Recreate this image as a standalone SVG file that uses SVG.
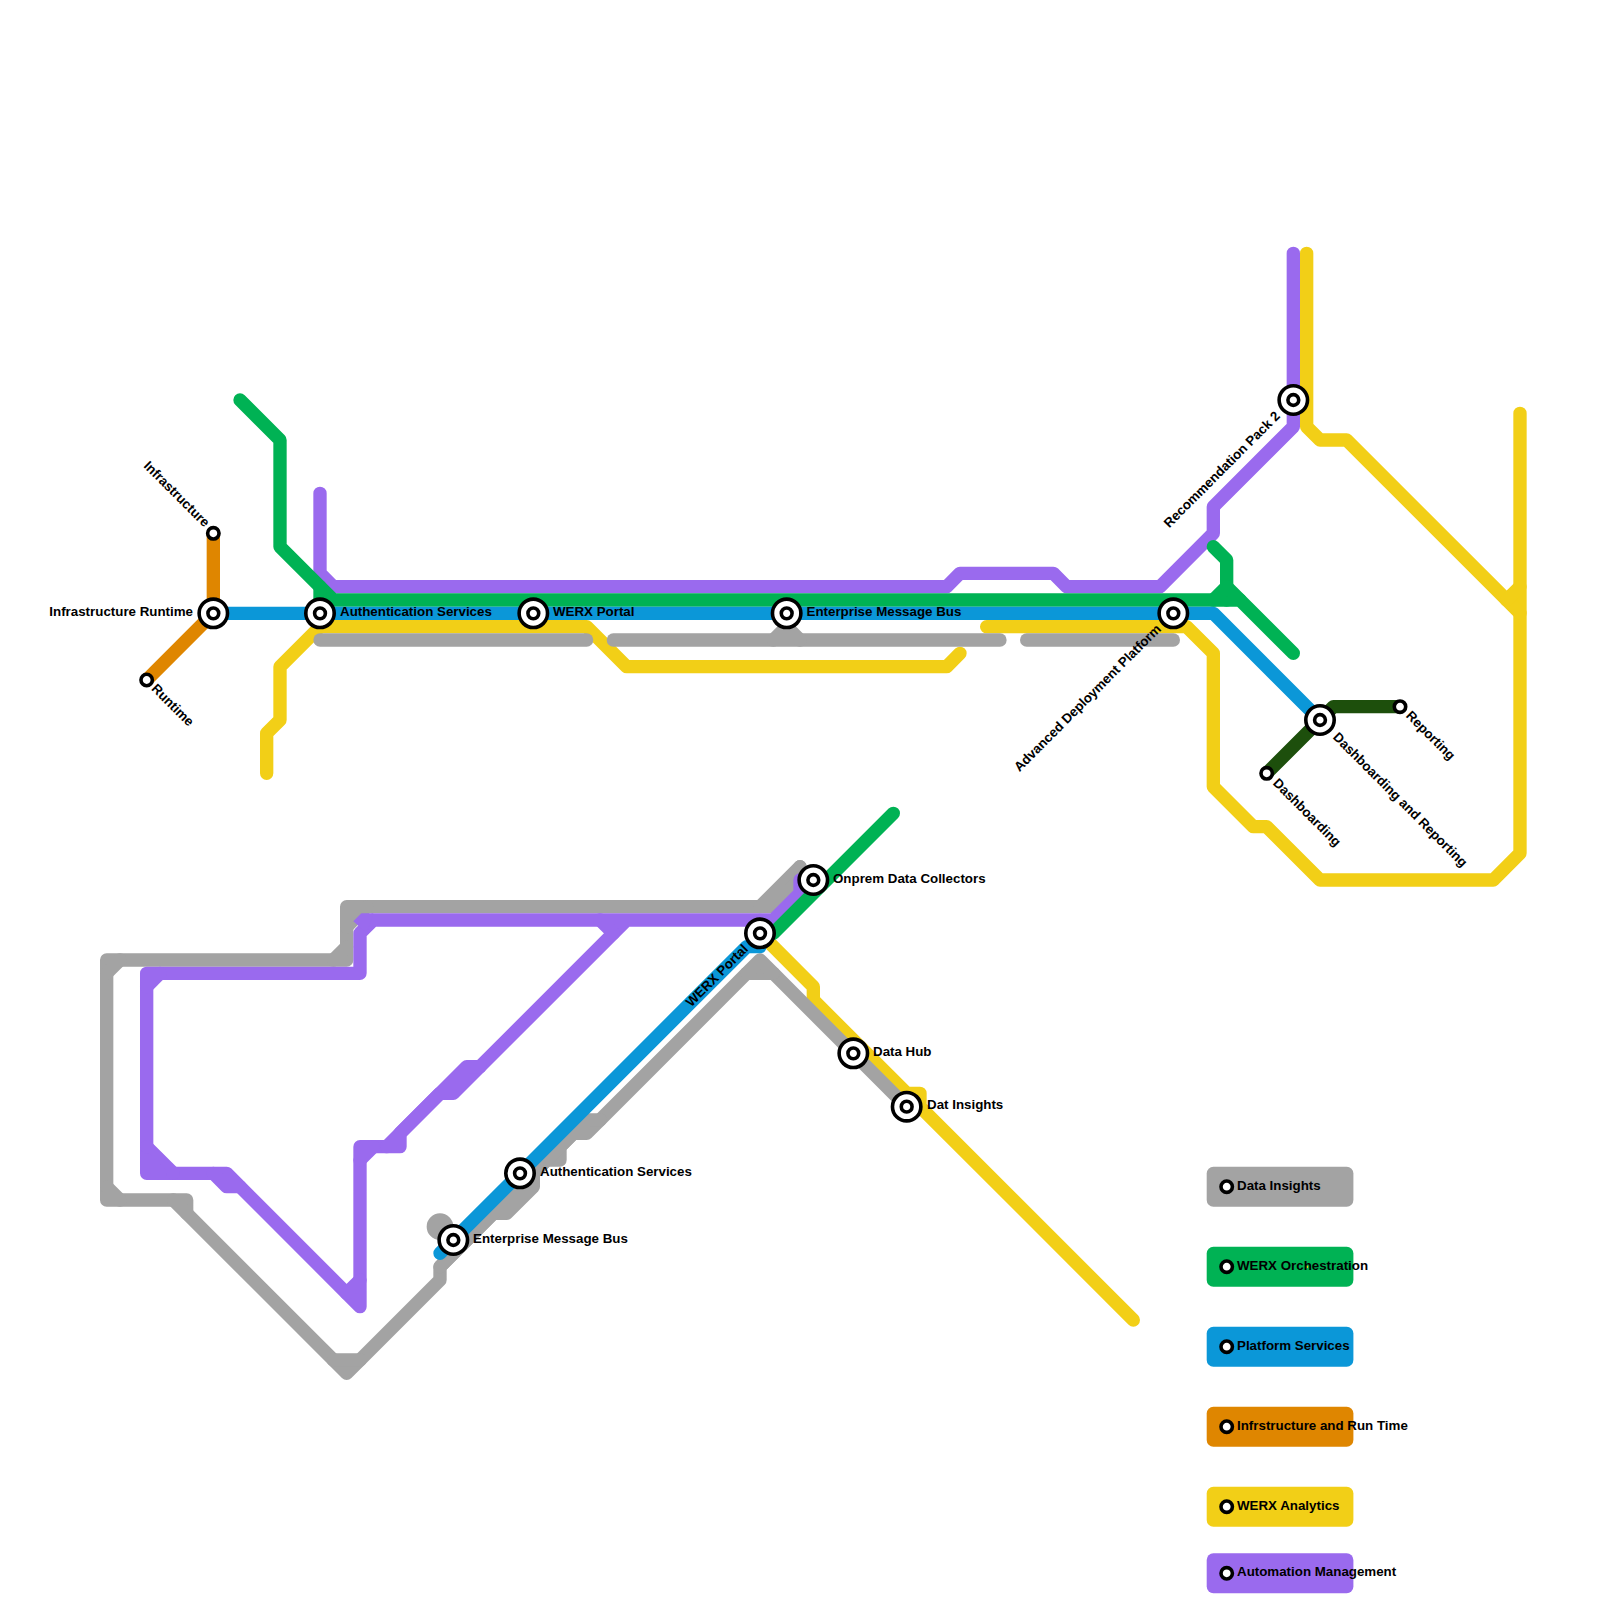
<svg xmlns="http://www.w3.org/2000/svg" width="1600" height="1600" viewBox="0 0 1600 1600">
<style>
.l{fill:none;stroke-width:1;stroke-linecap:round;stroke-linejoin:round}
.gy{stroke:#a3a3a3}.yl{stroke:#f2cf17}.pu{stroke:#9a6aee}.gn{stroke:#00b254}.bl{stroke:#0b97d8}.or{stroke:#df8600}.dg{stroke:#1d4f0c}
text{font-family:"Liberation Sans",Arial,sans-serif;font-size:13.33px;font-weight:bold;fill:#000}
.e{text-anchor:end}
.ring{fill:#fff;stroke:#000;stroke-width:3.6}
</style>
<defs>
<g id="big"><circle class="ring" r="14.2"/><circle class="ring" r="5.4"/></g>
<circle id="small" class="ring" r="5.7"/>
</defs>
<rect width="1600" height="1600" fill="#fff"/>
<g id="connectors" transform="scale(13.3333)">
<g class="l yl">
<polyline points="20,58 20,55 21,54 21,50 24,47 44,47 47,50 71,50 72,49"/>
<polyline points="74,47 89,47 91,49 91,59 94,62 95,62 99,66 112,66 114,64 114,31"/>
<polyline points="98,19 98,32 99,33 101,33 114,46"/>
<polyline points="113,45 114,44"/>
<polyline points="57,70 61,74 61,75 68,82 69,82 69,83 85,99"/>
</g>
<g class="l gy">
<polyline points="24,48 44,48"/>
<polyline points="46,48 75,48"/>
<polyline points="58,48 59,47 60,48"/>
<polyline points="77,48 88,48"/>
<polyline points="60,65 57,68 26,68 26,72 8,72 8,90 14,90 14,91"/>
<polyline points="13,90 26,103 27,102 33,96 33,95 37,91 38,91 40,89 40,88 41,87 42,87 42,86 43,85 44,85 45,84 56,73 58,73 68,83"/>
<polyline points="33,95 44,84 45,84"/>
<polyline points="60,65 60,66 58,68 57,68"/>
<polyline points="56,73 57,72 58,73"/>
<polyline points="25,102 27,102"/>
<polyline points="25,72 26,71"/>
<polyline points="26,69.5 27.5,68"/>
<polyline points="9,72 8,73"/>
<polyline points="8,89 9,90"/>
<circle cx="33" cy="92" r="0.5" fill="#a3a3a3"/>
</g>
<g class="l pu">
<polyline points="24,37 24,43 25,44 71,44 72,43 79,43 80,44 87,44 91,40 91,38 97,32 97,19"/>
<polyline points="60,66 60,67 58,69 28,69 27,70 27,73 11,73 11,88 17,88 27,98 27,86 30,86 30,85 33,82 34,82 47,69"/>
<polygon points="26.5,69.1 27.1,68.5 28,68.5 27.5,70" fill="#9a6aee" stroke="none"/>
<polyline points="11,74 12,73"/>
<polyline points="11,86 13,88"/>
<polyline points="11,87 12,88"/>
<polyline points="16,88 17,89 18,89"/>
<polyline points="26,97 27,96"/>
<polyline points="27,87 28,86"/>
<polyline points="29,86 35,80 36,80"/>
<polyline points="45,69 46,70"/>
</g>
<g class="l gn">
<polyline points="18,30 21,33 21,41 25,45 93,45 97,49"/>
<polyline points="24,44 24,46"/>
<polyline points="91,41 92,42 92,45"/>
<polyline points="91,45 92,44 93,45"/>
<polyline points="57,70 58,70 67,61"/>
</g>
<g class="l bl">
<polyline points="16,46 91,46 99,54"/>
<polyline points="33,94 56,71 57,71 57,70"/>
</g>
<polyline class="l or" points="16,40 16,46 11,51"/>
<polyline class="l dg" points="95,58 99,54 100,53 105,53"/>
</g>
<g id="legend-data-insights"><rect x="1206.7" y="1166.7" width="146.7" height="40" rx="6.7" fill="#a3a3a3"/><use href="#small" x="1226.7" y="1186.7"/><text x="1237" y="1189.5">Data Insights</text></g>
<g id="legend-werx-orchestration"><rect x="1206.7" y="1246.7" width="146.7" height="40" rx="6.7" fill="#00b254"/><circle cx="1306.7" cy="1266.7" r="1.5" fill="#f2cf17"/><use href="#small" x="1226.7" y="1266.7"/><text x="1237" y="1269.5">WERX Orchestration</text></g>
<g id="legend-platform-services"><rect x="1206.7" y="1326.7" width="146.7" height="40" rx="6.7" fill="#0b97d8"/><use href="#small" x="1226.7" y="1346.7"/><text x="1237" y="1349.5">Platform Services</text></g>
<g id="legend-infrastructure"><rect x="1206.7" y="1406.7" width="146.7" height="40" rx="6.7" fill="#df8600"/><use href="#small" x="1226.7" y="1426.7"/><text x="1237" y="1429.5">Infrstructure and Run Time</text></g>
<g id="legend-werx-analytics"><rect x="1206.7" y="1486.7" width="146.7" height="40" rx="6.7" fill="#f2cf17"/><use href="#small" x="1226.7" y="1506.7"/><text x="1237" y="1509.5">WERX Analytics</text></g>
<g id="legend-automation"><rect x="1206.7" y="1553.3" width="146.7" height="40" rx="6.7" fill="#9a6aee"/><use href="#small" x="1226.7" y="1573.3"/><text x="1237" y="1576">Automation Management</text></g>
<g id="st-infrastructure-runtime"><use href="#big" x="213.33" y="613.33"/><text class="e" x="193" y="616">Infrastructure Runtime</text></g>
<g id="st-infrastructure"><use href="#small" x="213.33" y="533.33"/><text class="e" transform="translate(207,525) rotate(45)" y="4">Infrastructure</text></g>
<g id="st-runtime"><use href="#small" x="146.67" y="680"/><text transform="translate(153.5,686.5) rotate(45)" y="4">Runtime</text></g>
<g id="st-auth1"><use href="#big" x="320" y="613.33"/><text x="340" y="616">Authentication Services</text></g>
<g id="st-portal1"><use href="#big" x="533.33" y="613.33"/><text x="553" y="616">WERX Portal</text></g>
<g id="st-emb1"><use href="#big" x="786.67" y="613.33"/><text x="806.5" y="616">Enterprise Message Bus</text></g>
<g id="st-adp"><use href="#big" x="1173.33" y="613.33"/><text class="e" transform="translate(1159,627) rotate(-45)" y="4">Advanced Deployment Platform</text></g>
<g id="st-rec"><use href="#big" x="1293.33" y="400"/><text class="e" transform="translate(1278,414) rotate(-45)" y="4">Recommendation Pack 2</text></g>
<g id="st-dash-rep"><use href="#big" x="1320" y="720"/><text transform="translate(1335,735) rotate(45)" y="4">Dashboarding and Reporting</text></g>
<g id="st-reporting"><use href="#small" x="1400" y="706.67"/><text transform="translate(1408,713.5) rotate(45)" y="4">Reporting</text></g>
<g id="st-dashboarding"><use href="#small" x="1266.67" y="773.33"/><text transform="translate(1275,781) rotate(45)" y="4">Dashboarding</text></g>
<g id="st-portal2"><use href="#big" x="760" y="933.33"/><text class="e" transform="translate(746,947) rotate(-45)" y="4">WERX Portal</text></g>
<g id="st-onprem"><use href="#big" x="813.33" y="880"/><text x="833" y="883">Onprem Data Collectors</text></g>
<g id="st-datahub"><use href="#big" x="853.33" y="1053.33"/><text x="873" y="1056">Data Hub</text></g>
<g id="st-datinsights"><use href="#big" x="906.67" y="1106.67"/><text x="927" y="1109">Dat Insights</text></g>
<g id="st-auth2"><use href="#big" x="520" y="1173.33"/><text x="540" y="1176">Authentication Services</text></g>
<g id="st-emb2"><use href="#big" x="453.33" y="1240"/><text x="473" y="1243">Enterprise Message Bus</text></g>
</svg>
